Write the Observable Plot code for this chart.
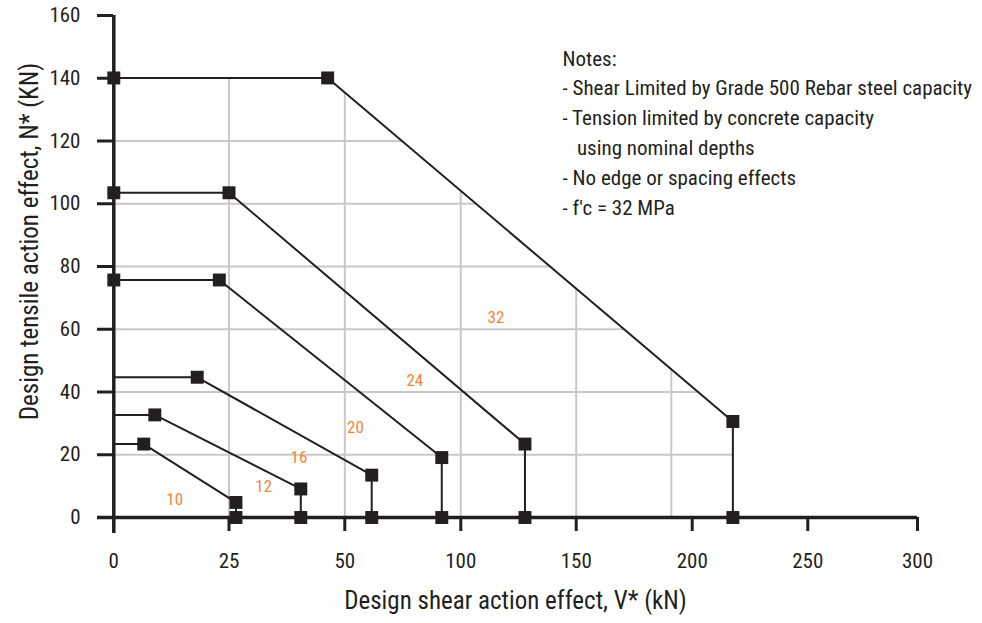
<!DOCTYPE html>
<html>
<head>
<meta charset="utf-8">
<script src="https://cdn.jsdelivr.net/npm/d3@7"></script>
<script src="https://cdn.jsdelivr.net/npm/@observablehq/plot@0.6"></script>
<style>
  body { margin: 0; background: #fff; }
</style>
</head>
<body>
<div id="chart"></div>
<script>
// ---- data ----
const barSizes = ["10", "12", "16", "20", "24", "32"];
const plateauN = [23.4, 32.7, 44.7, 75.7, 103.5, 140.1];       // N* of the horizontal plateau
const plateauEndV = [6.5, 8.9, 18.1, 22.9, 25.0, 46.3];         // V* where the plateau ends
const maxShearV = [26.5, 40.5, 61.6, 91.8, 127.8, 217.6];       // V* shear limit
const tensionAtMaxShearN = [4.8, 9.1, 13.5, 19.1, 23.4, 30.6];  // N* at shear limit
const markerAtAxis = [false, false, false, true, true, true];
const labelV = [13.2, 32.5, 40.1, 54.6, 80.2, 115.2];
const labelN = [5.6, 9.8, 19.0, 28.7, 43.6, 63.8];
const xTicks = [0, 25, 50, 100, 150, 200, 250, 300];
const yTicks = [0, 20, 40, 60, 80, 100, 120, 140, 160];
const xGrid = [25, 50, 100, 150, 191];
const yGrid = [20, 40, 60, 80, 100, 120];
const notes = [
  "Notes:",
  "- Shear Limited by Grade 500 Rebar steel capacity",
  "- Tension limited by concrete capacity",
  "\u00a0\u00a0\u00a0using nominal depths",
  "- No edge or spacing effects",
  "- f'c = 32 MPa"
];
const xLabel = "Design shear action effect, V* (kN)";
const yLabel = "Design tensile action effect, N* (KN)";

// ---- derived tables ----
const paths = barSizes.flatMap((s, i) => [
  {s, v: 0, n: plateauN[i], m: markerAtAxis[i]},
  {s, v: plateauEndV[i], n: plateauN[i], m: true},
  {s, v: maxShearV[i], n: tensionAtMaxShearN[i], m: true},
  {s, v: maxShearV[i], n: 0, m: true}
]);
const markers = paths.filter(d => d.m);
const outer = barSizes.length - 1;
const envelope = paths.filter(d => d.s === barSizes[outer] && d.n > 0);

const ink = "#231f20";
const orange = "#f5843a";
const font = '"Liberation Sans Narrow", "Roboto Condensed", "DejaVu Sans Condensed", Roboto, sans-serif';

const chart = Plot.plot({
  width: 982,
  height: 623,
  marginLeft: 113,
  marginRight: 65,
  marginTop: 15,
  marginBottom: 106,
  style: {fontFamily: font, background: "#fff", color: ink},
  // piecewise-linear scale: ticks are evenly spaced as in the reference
  x: {type: "linear", domain: xTicks, range: [113.3, 228.5, 344.3, 460.3, 575.7, 691.7, 807.3, 917], label: null},
  y: {domain: [0, 160], label: null},
  marks: [
    Plot.ruleY(yGrid, {stroke: "#c8c8c8", strokeWidth: 2}),
    Plot.ruleX(xGrid, {stroke: "#c8c8c8", strokeWidth: 2}),
    // grid only inside the outer envelope
    Plot.areaY(envelope, {x: "v", y1: "n", y2: 160, fill: "#fff"}),
    Plot.rect([0], {x1: maxShearV[outer], x2: 300, y1: 0, y2: 160, fill: "#fff"}),
    Plot.ruleY([0], {stroke: ink, strokeWidth: 3.5, insetLeft: -16}),
    Plot.ruleX([0], {stroke: ink, strokeWidth: 3.5, insetBottom: -16}),
    Plot.axisX(xTicks.slice(1), {tickSize: 14, tickPadding: 22, strokeWidth: 3, stroke: ink, fill: ink, fontSize: 21, tickFormat: d => d, label: null}),
    Plot.axisX([0], {tickSize: 14, tickPadding: 22, strokeWidth: 0, fill: ink, fontSize: 21, tickFormat: d => d, label: null}),
    Plot.axisY(yTicks, {tickSize: 16, tickPadding: 17, strokeWidth: 3, stroke: ink, fill: ink, fontSize: 21, tickFormat: d => d, label: null}),
    Plot.line(paths, {x: "v", y: "n", z: "s", stroke: ink, strokeWidth: 2}),
    Plot.dot(markers, {x: "v", y: "n", symbol: "square", r: 7.3, fill: ink}),
    Plot.text(barSizes, {x: (d, i) => labelV[i], y: (d, i) => labelN[i], text: d => d, fill: orange, fontSize: 17}),
    Plot.text([notes.join("\n")], {text: d => d, frameAnchor: "top-left", dx: 449, dy: 29, textAnchor: "start", lineAnchor: "top", lineHeight: 1.42, fontSize: 21, fill: ink}),
    Plot.text([xLabel], {text: d => d, frameAnchor: "bottom", dy: 83, lineAnchor: "middle", fontSize: 25, fill: ink}),
    Plot.text([yLabel], {text: d => d, frameAnchor: "left", rotate: -90, dx: -84, dy: -25, textAnchor: "middle", lineAnchor: "middle", fontSize: 25, fill: ink})
  ]
});
document.getElementById("chart").append(chart);
</script>
</body>
</html>
